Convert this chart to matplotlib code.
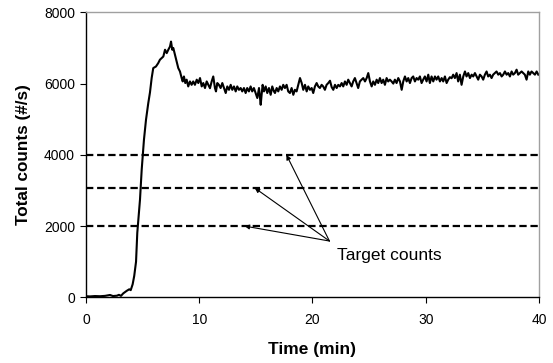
import numpy as np
import matplotlib.pyplot as plt

plt.rcParams['font.family'] = ['Liberation Sans', 'DejaVu Sans']

# time (min) and total counts (#/s)
time_min = [0.00, 0.35, 0.79, 1.24, 1.68, 2.12, 2.38, 2.74, 2.91, 3.09,
            3.29, 3.59, 3.82, 3.95, 4.12, 4.26, 4.42, 4.53, 4.77, 4.92,
            5.12, 5.30, 5.50, 5.65, 5.80, 5.94, 6.18, 6.38, 6.53, 6.68,
            6.83, 6.98, 7.13, 7.27, 7.42, 7.51, 7.62, 7.71, 7.86, 8.01,
            8.15, 8.30, 8.45, 8.54, 8.65, 8.77, 8.89, 9.03, 9.18, 9.33,
            9.47, 9.62, 9.78, 9.92, 10.07, 10.22, 10.36, 10.51, 10.66, 10.80,
            10.95, 11.10, 11.24, 11.39, 11.48, 11.60, 11.74, 11.89, 12.04, 12.19,
            12.34, 12.48, 12.63, 12.78, 12.92, 13.07, 13.22, 13.36, 13.51, 13.66,
            13.80, 13.95, 14.10, 14.24, 14.39, 14.54, 14.68, 14.83, 14.98, 15.13,
            15.28, 15.43, 15.51, 15.60, 15.72, 15.87, 16.01, 16.16, 16.31, 16.45,
            16.60, 16.69, 16.84, 16.98, 17.13, 17.28, 17.42, 17.57, 17.72, 17.86,
            18.01, 18.16, 18.31, 18.45, 18.60, 18.75, 18.90, 19.05, 19.19, 19.34,
            19.49, 19.63, 19.78, 19.93, 20.07, 20.22, 20.37, 20.51, 20.66, 20.81,
            20.95, 21.10, 21.25, 21.40, 21.55, 21.70, 21.84, 21.99, 22.14, 22.28,
            22.43, 22.58, 22.72, 22.87, 23.02, 23.16, 23.31, 23.46, 23.60, 23.75,
            23.90, 24.04, 24.19, 24.34, 24.49, 24.64, 24.79, 24.93, 25.08, 25.23,
            25.37, 25.52, 25.67, 25.81, 25.96, 26.11, 26.25, 26.40, 26.55, 26.69,
            26.84, 26.99, 27.14, 27.28, 27.43, 27.58, 27.73, 27.88, 28.02, 28.17,
            28.32, 28.46, 28.61, 28.76, 28.90, 29.05, 29.20, 29.34, 29.49, 29.64,
            29.78, 29.93, 30.08, 30.23, 30.37, 30.52, 30.67, 30.82, 30.96, 31.11,
            31.26, 31.41, 31.55, 31.70, 31.85, 31.99, 32.14, 32.29, 32.43, 32.58,
            32.73, 32.87, 33.02, 33.17, 33.32, 33.47, 33.61, 33.76, 33.91, 34.06,
            34.20, 34.35, 34.50, 34.64, 34.79, 34.94, 35.08, 35.23, 35.38, 35.52,
            35.67, 35.82, 35.96, 36.11, 36.26, 36.41, 36.56, 36.71, 36.85, 37.00,
            37.15, 37.29, 37.44, 37.59, 37.73, 37.88, 38.03, 38.17, 38.32, 38.47,
            38.61, 38.76, 38.91, 39.06, 39.20, 39.35, 39.50, 39.65, 39.80, 39.95]

counts = [30, 25, 35, 30, 40, 65, 35, 45, 70, 40,
          110, 180, 225, 200, 365, 600, 1000, 1810, 2745, 3585,
          4425, 4985, 5450, 5750, 6155, 6435, 6480, 6575, 6670, 6715,
          6760, 6950, 6855, 6950, 7040, 7180, 6950, 7000, 6810, 6620,
          6435, 6340, 6155, 6060, 6200, 6015, 6110, 5920, 6060, 5965,
          6060, 5965, 6110, 6015, 6155, 5920, 6015, 5875, 6060, 5965,
          5870, 6060, 6200, 5875, 5780, 6015, 5965, 5875, 6015, 5875,
          5735, 5920, 5825, 5965, 5825, 5920, 5780, 5920, 5825, 5875,
          5780, 5875, 5735, 5875, 5780, 5920, 5780, 5875, 5735, 5595,
          5875, 5405, 5685, 5965, 5780, 5920, 5735, 5875, 5685, 5920,
          5780, 5735, 5875, 5780, 5920, 5825, 5965, 5875, 5965, 5780,
          5735, 5875, 5685, 5825, 5780, 5965, 6155, 6015, 5825, 5965,
          5780, 5920, 5825, 5875, 5735, 5920, 6015, 5920, 5875, 5965,
          5920, 5825, 5965, 6015, 6080, 5900, 5825, 5965, 5875, 5965,
          5920, 6015, 5920, 6060, 5965, 6110, 6015, 5920, 6060, 6155,
          6015, 5875, 6060, 6110, 6155, 6060, 6155, 6295, 6060, 5920,
          6060, 5965, 6110, 6015, 6155, 6015, 6110, 5965, 6155, 6060,
          6110, 6060, 6000, 6110, 6015, 6155, 6060, 5825, 6060, 6200,
          6060, 6155, 6015, 6155, 6200, 6060, 6155, 6110, 6200, 6015,
          6110, 6200, 6060, 6250, 6015, 6200, 6060, 6200, 6110, 6200,
          6060, 6155, 6060, 6200, 6015, 6110, 6180, 6150, 6250, 6155,
          6295, 6060, 6250, 5965, 6200, 6340, 6200, 6295, 6155, 6250,
          6200, 6295, 6200, 6110, 6250, 6200, 6110, 6250, 6340, 6200,
          6250, 6155, 6250, 6295, 6340, 6250, 6295, 6200, 6250, 6340,
          6250, 6295, 6200, 6340, 6250, 6295, 6390, 6250, 6295, 6340,
          6295, 6250, 6110, 6340, 6250, 6340, 6295, 6250, 6340, 6250]

target_levels = [2000, 3070, 4000]
target_arrow_x = [14.0, 14.9, 17.7]
label_xy = (21.5, 1580)

fig = plt.figure(figsize=(5.53, 3.63), dpi=100)
ax = fig.add_axes([0.1555, 0.181, 0.819, 0.785])

ax.plot(time_min, counts, color='black', lw=1.5)
for lvl in target_levels:
    ax.axhline(lvl, color='black', lw=1.6, linestyle=(0, (3.3, 1.7)))

for xa, lvl in zip(target_arrow_x, target_levels):
    ax.annotate('', xy=(xa, lvl), xytext=label_xy,
                arrowprops=dict(arrowstyle='-|>', color='black', lw=0.8,
                                mutation_scale=7, shrinkA=0, shrinkB=0))
ax.text(22.2, 1180, 'Target counts', fontsize=12.5, va='center', ha='left')

ax.set_xlim(0, 40)
ax.set_ylim(0, 8000)
ax.set_xticks([0, 10, 20, 30, 40])
ax.set_yticks([0, 2000, 4000, 6000, 8000])
ax.tick_params(labelsize=10, length=4, width=0.8, direction='out')
ax.tick_params(axis='x', pad=7)
ax.tick_params(axis='y', pad=4)
ax.set_xlabel('Time (min)', fontsize=12.5, fontweight='bold', labelpad=11)
ax.set_ylabel('Total counts (#/s)', fontsize=12.3, fontweight='bold', labelpad=9)

ax.spines['top'].set_color('#a0a0a0')
ax.spines['right'].set_color('#a0a0a0')
for s in ax.spines.values():
    s.set_linewidth(1.0)

fig.savefig('out.png', dpi=100)
